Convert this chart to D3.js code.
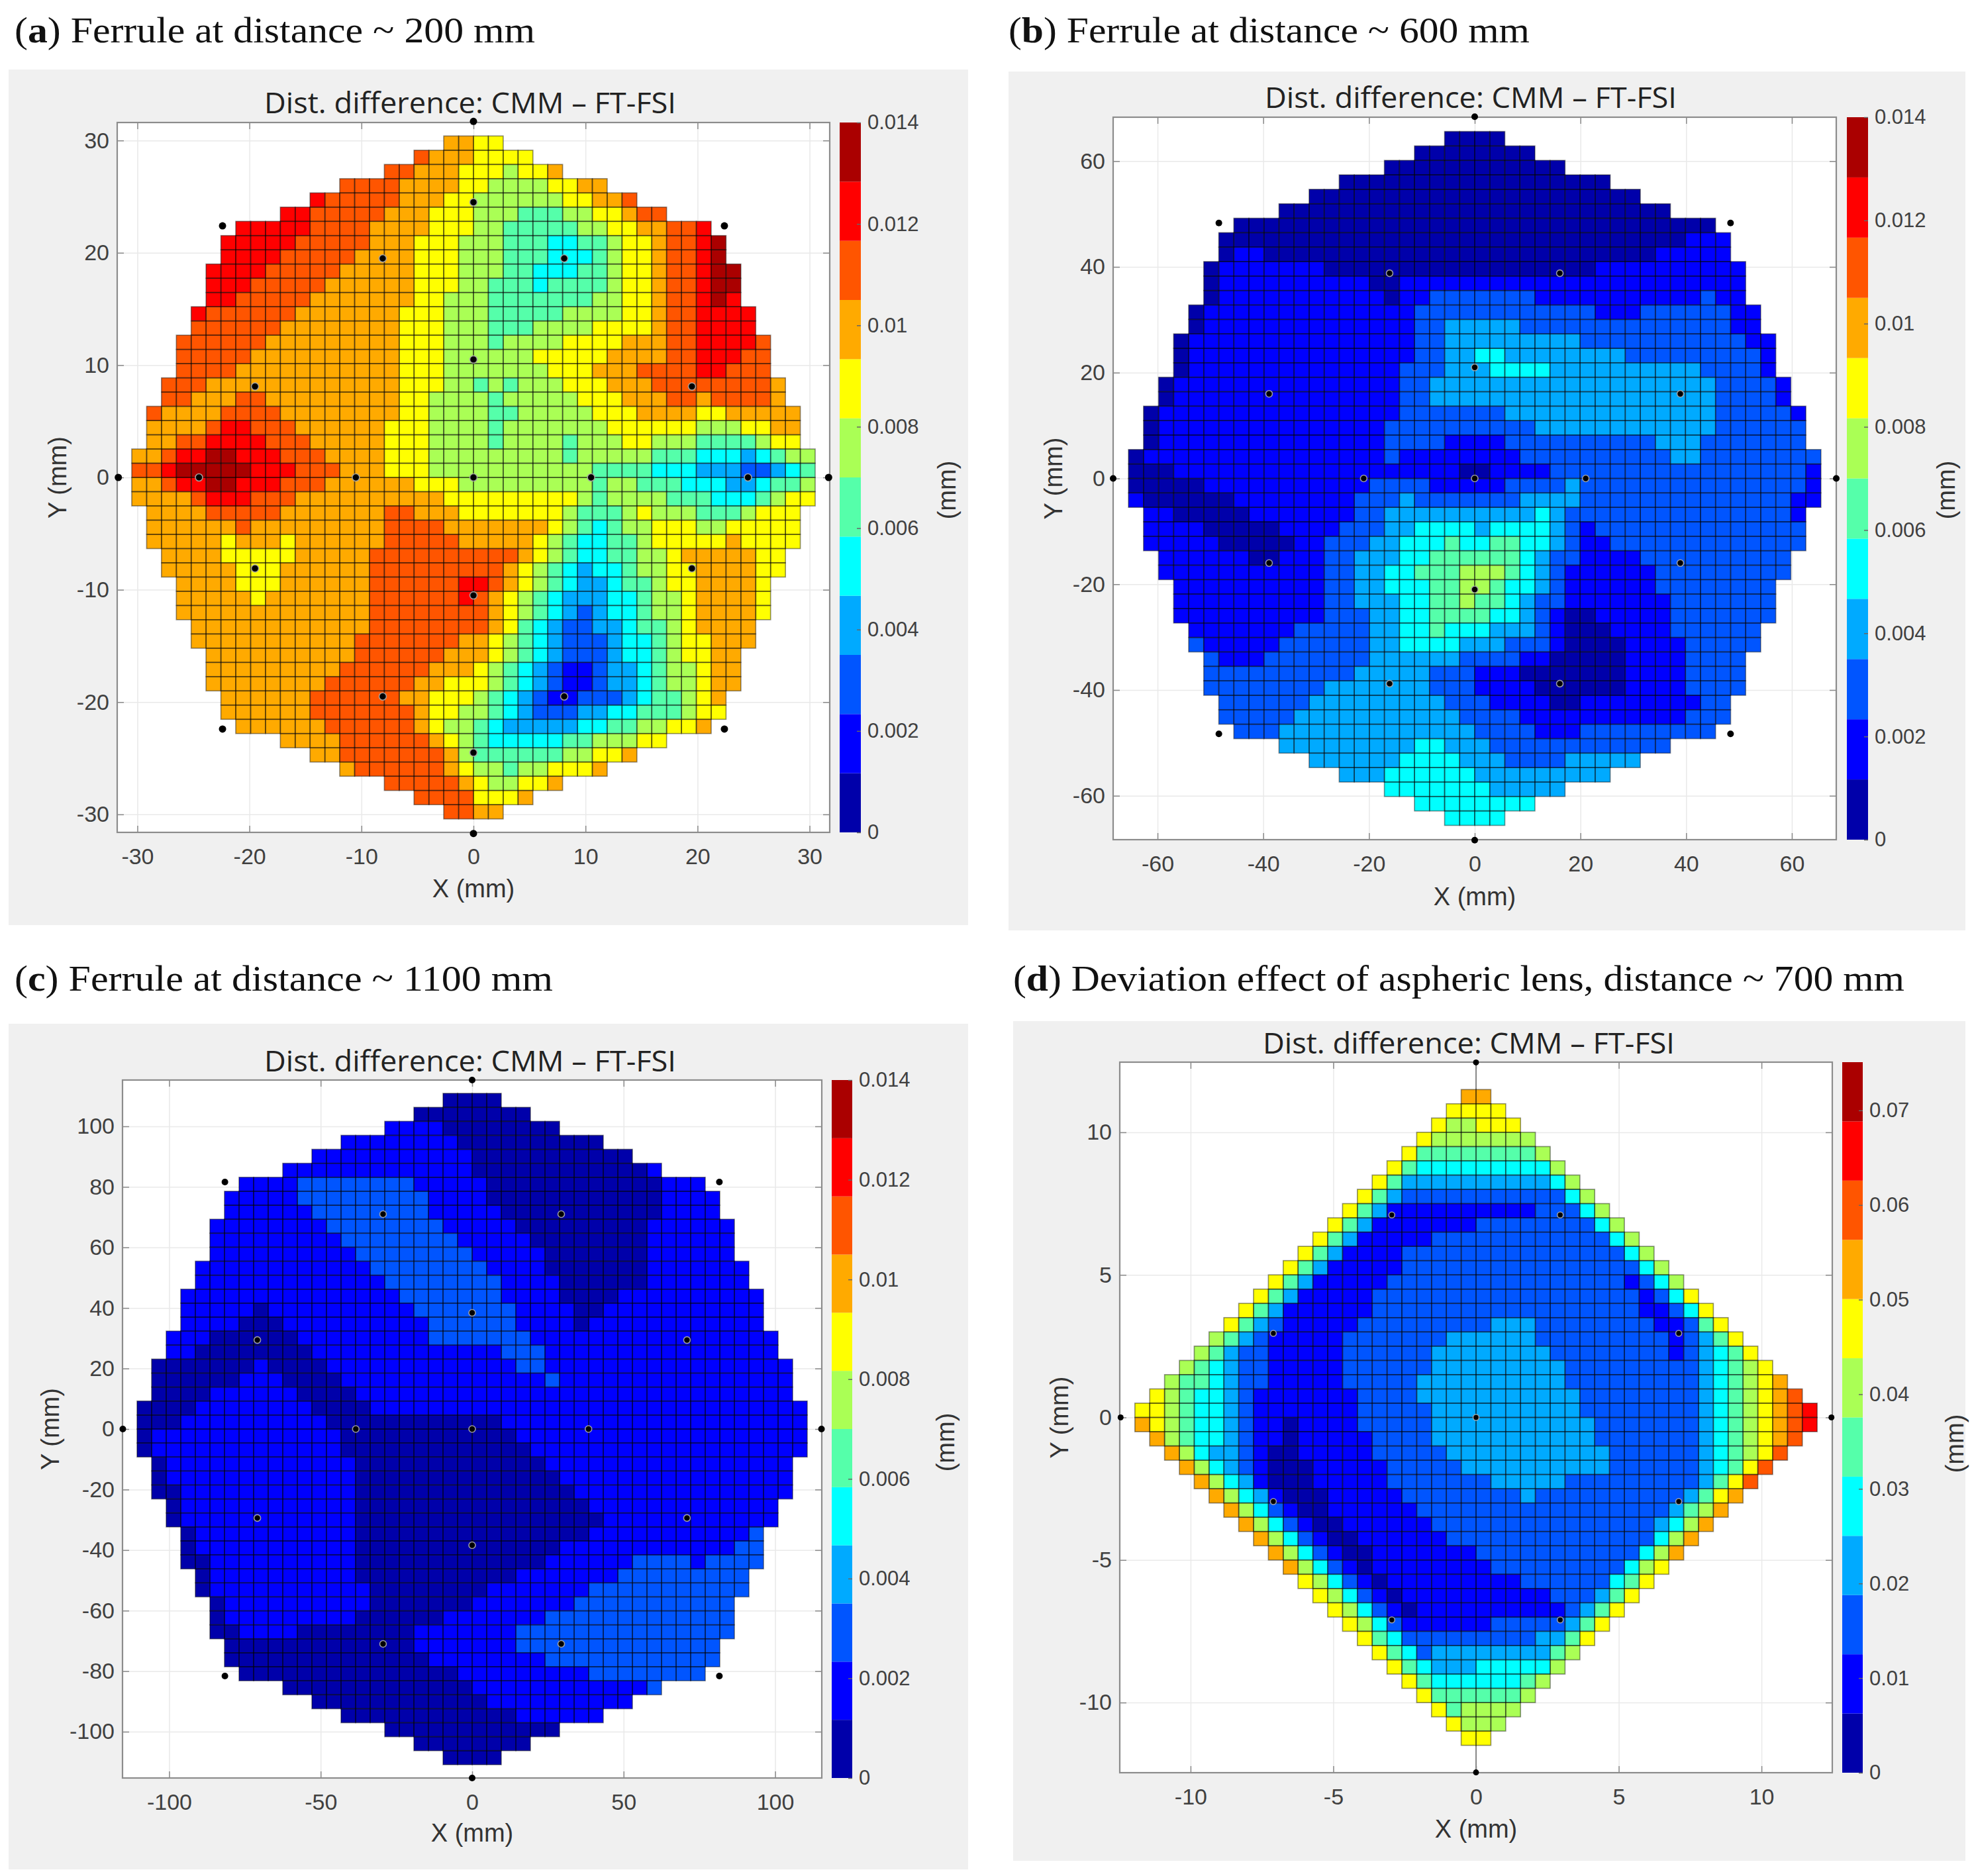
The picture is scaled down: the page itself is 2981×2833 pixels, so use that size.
<!DOCTYPE html>
<html><head><meta charset="utf-8">
<script src="https://d3js.org/d3.v7.min.js"></script>
<style>html,body{margin:0;padding:0;background:#fff}svg{display:block}</style>
</head><body><svg id="c" width="2981" height="2833"></svg>
<script>
// Colour classes of the colour bars, low to high
const classColors = ["#0000AA","#0000FF","#0055FF","#00AAFF","#00FFFF","#55FFAA","#AAFF55","#FFFF00","#FFAA00","#FF5500","#FF0000","#AA0000"];

// Cell classes, one line per grid row from top to bottom.
// Each token is <class in base 12><run length>; every row is centred on X = 0.
const rowsA = ["82 72","91 83 74","92 83 73 61 72 81","94 84 72 64 72 82","a1 95 83 72 66 72 82 91","a2 95 83 73 63 53 62 72 81 92","a5 94 84 73 62 55 62 72 82 92 a1","a5 95 83 73 63 53 42 52 61 72 81 92 a1 b1","a4 95 84 73 63 53 43 51 61 72 81 92 a1 b1","a4 95 85 73 63 52 43 52 61 72 81 92 a1 b2","a3 95 86 73 62 53 41 54 61 72 81 92 a1 b2","a2 95 87 72 63 57 62 72 81 92 a1 b1 a1","a1 96 87 73 63 55 64 72 81 92 a4","96 88 73 63 53 64 74 81 92 a4","96 89 73 63 51 64 74 83 92 a4 91","95 810 73 66 75 84 92 a3 92","94 811 73 67 73 83 94 a2 93","93 813 73 62 51 61 51 63 73 83 98 81","92 83 92 89 72 64 51 65 73 83 92 81 94 81","91 84 94 88 72 64 52 65 73 84 72 85","84 91 a2 93 86 73 64 51 67 76 63 72 82","82 92 a4 93 85 73 64 51 64 51 63 72 63 54 61 72","82 91 a2 b2 a3 93 84 73 69 51 65 53 43 31 41 51 62","92 a1 b5 a3 93 83 73 611 54 43 33 22 31 41 51",
"82 91 a2 b2 a3 93 86 73 69 51 62 53 43 32 41 52 61","84 91 a3 93 810 79 61 51 64 53 43 51 61 72","84 95 87 92 83 77 61 53 61 71 63 53 61 73","86 91 89 94 87 71 61 51 41 51 62 73 62 75","85 71 83 71 86 95 85 71 61 51 42 52 61 75 81 74","84 75 85 910 81 71 61 51 42 52 62 71 85 72","85 73 86 99 81 71 61 51 41 31 42 51 62 72 84 72","84 73 86 96 a2 91 81 71 61 51 41 32 41 52 61 72 84 71","85 71 87 96 a1 91 81 71 61 51 41 33 42 51 62 71 84 71","813 98 81 71 61 51 41 31 21 31 42 51 62 71 84 71","812 98 81 71 51 41 31 22 32 41 52 61 71 84","811 97 82 71 61 51 41 31 23 31 42 51 61 72 83","810 96 83 71 61 51 41 31 23 31 42 51 61 72 82","89 96 83 71 61 51 41 31 21 12 21 32 41 51 62 71 82","88 96 82 73 61 51 41 31 21 12 21 32 41 51 62 71 82","86 96 82 73 61 51 41 31 21 12 23 31 41 52 61 71 81","86 97 81 72 62 51 41 31 23 32 42 53 61 72","86 96 81 71 62 51 41 35 42 52 62 72 81","84 96 81 71 61 51 45 52 63 72","82 97 81 61 56 62 72 81","81 96 81 71 62 51 62 73 81","95 81 71 62 72 81","94 73 81","92 82"];

const rowsB = ["04","08","012","018","022","026","032","031 13","01 12 026 15","01 17 018 110","01 110 02 123","01 111 01 12 27 111 21 12","01 114 212 13 26 12","01 114 22 35 214 12","01 115 22 39 211 12","01 115 22 32 42 38 29 11","01 114 23 33 44 310 24 11","01 115 22 319 24 11","01 115 22 319 24 11","01 116 27 314 25 11","01 115 210 312 26","01 115 24 14 210 33 27","01 116 21 18 210 32 28","03 119 02 14 217 11",
"05 111 24 15 24 31 215 11","11 06 18 23 31 27 34 214 12","12 05 17 22 310 41 31 215 11","14 05 14 23 32 44 31 44 31 21 11 214","15 05 12 23 32 43 51 42 52 42 31 21 12 213","16 02 13 22 33 42 56 41 31 22 14 210","111 22 32 42 53 63 51 41 31 21 16 29","110 22 32 43 52 62 51 42 31 21 16 28","110 22 33 42 52 61 52 41 31 22 17 27","110 23 32 42 54 42 31 21 11 02 15 27","17 25 32 42 51 43 33 21 11 03 14 26","21 15 26 32 44 33 23 11 04 14 25","21 13 27 36 24 12 05 14 24","210 35 23 13 07 14 24","28 37 23 14 06 14 24","26 39 23 14 02 18 22","25 311 24 111 23","23 313 24 13 29","39 42 33 212","36 44 33 24 35","33 46 39","47 35","48","44"];

const rowsC = ["04","08","14 08","18 010","111 011","113 012 11","14 28 15 012 13","15 29 14 012 14","16 28 15 011 14","18 28 15 09 16","19 28 15 08 16","110 28 15 07 16","112 28 14 07 17","113 28 14 06 17","115 27 14 04 110","15 01 110 27 14 02 111","14 03 110 26 14 01 112","13 06 19 27 117","12 08 113 23 116","07 11 04 113 22 117","06 13 04 114 21 116","04 16 04 130","04 18 04 130","03 110 012 121",
"01 113 012 120","01 113 013 119","01 113 013 117","01 113 014 116","02 112 015 115","01 112 016 113","01 112 017 112","01 111 016 111 21","01 111 014 112 22","02 110 013 16 24 11 24","01 110 011 17 29","01 111 08 17 211","01 110 07 17 211","01 19 06 17 213","02 14 08 17 215","013 17 214","014 18 212","015 19 28","013 112 21","012 110","012 16","012","08","04"];

const rowsD = ["82","74","71 62 73","71 67","71 58 61","71 51 49 61","71 51 310 41 61","71 51 31 211 41 61","71 51 31 110 23 41 61","71 51 31 17 28 41 61","71 51 31 15 212 41 61","71 51 31 14 215 41 61","71 51 31 15 216 41 61","71 51 31 15 216 11 21 41 61","71 51 31 15 218 11 21 41 71","71 51 31 16 218 12 21 41 71","71 51 31 21 15 29 33 28 12 21 51 71","61 51 31 21 15 27 36 29 11 21 31 51 71","61 51 31 22 15 26 38 28 11 21 31 41 51 71","61 51 41 31 22 15 26 39 29 31 41 51 61 71","61 52 41 31 22 15 25 310 29 31 41 51 61 71 81","71 61 51 42 31 21 17 24 311 28 31 41 51 61 71 81 91","72 61 51 42 31 21 17 25 310 28 31 41 51 61 71 81 91 a1",
"81 71 61 51 42 31 21 12 01 14 25 311 27 31 41 51 61 71 81 91 a1","81 61 51 42 31 21 12 01 15 24 311 27 31 41 51 61 71 81 91","81 61 41 32 21 11 02 15 25 311 26 31 41 51 61 71 91","81 61 41 31 21 11 03 15 25 310 26 31 41 51 71 91","81 61 41 31 11 03 15 27 35 29 31 51 71 91","81 61 41 31 11 03 15 28 31 210 31 51 71 81","81 61 41 21 11 02 16 217 31 51 61 81","81 61 41 21 11 02 16 215 31 41 61 81","81 61 41 21 11 02 16 214 41 61 81","81 61 41 21 11 02 17 211 41 61 81","81 61 41 21 11 01 18 29 41 61 71","71 61 41 21 11 01 19 26 41 51 71","71 61 41 21 11 01 110 23 31 51 71","71 61 41 21 11 01 110 21 31 51 71","71 61 41 21 16 25 31 51 71","71 51 41 29 32 51 71","71 51 41 21 38 51 61","71 51 41 33 45 61","71 51 46 51 61","71 56 61","71 51 64","71 63","72"];

// Measurement targets in mm: outer ones plain, inner ones ringed
const outerA = [[0,31.7],[0,-31.7],[-31.7,0],[31.7,0],[-22.4,22.4],[22.4,22.4],[-22.4,-22.4],[22.4,-22.4]];
const innerA = [[0,0],[-10.5,0],[10.5,0],[0,10.5],[0,-10.5],[-24.5,0],[24.5,0],[0,24.5],[0,-24.5],[-8.1,19.5],[8.1,19.5],[-8.1,-19.5],[8.1,-19.5],[-19.5,8.1],[19.5,8.1],[-19.5,-8.1],[19.5,-8.1]];
const outerB = [[0,68.4],[0,-68.4],[-68.4,0],[68.4,0],[-48.4,48.3],[48.4,48.3],[-48.4,-48.3],[48.4,-48.3]];
const innerB = [[0,0],[-21,0],[21,0],[0,21],[0,-21],[-16.1,38.8],[16.1,38.8],[-16.1,-38.8],[16.1,-38.8],[-38.9,16],[38.9,16],[-38.9,-16],[38.9,-16]];
const outerC = [[0,115.3],[0,-115.3],[-115.3,0],[115.3,0],[-81.6,81.6],[81.6,81.6],[-81.6,-81.6],[81.6,-81.6]];
const innerC = [[0,0],[-38.4,0],[38.4,0],[0,38.4],[0,-38.4],[-70.9,29.4],[70.9,29.4],[-70.9,-29.4],[70.9,-29.4],[-29.4,71],[29.4,71],[-29.4,-71],[29.4,-71]];
const outerD = [[0,12.45],[0,-12.45],[-12.45,0],[12.45,0]];
const innerD = [[0,0],[-2.95,7.1],[2.95,7.1],[-2.95,-7.1],[2.95,-7.1],[-7.1,2.95],[7.1,2.95],[-7.1,-2.95],[7.1,-2.95]];

const ticksA = [-30,-20,-10,0,10,20,30];
const ticksB = [-60,-40,-20,0,20,40,60];
const ticksCx = [-100,-50,0,50,100];
const ticksCy = [-100,-80,-60,-40,-20,0,20,40,60,80,100];
const ticksD = [-10,-5,0,5,10];
const barTicks = [0,0.002,0.004,0.006,0.008,0.01,0.012,0.014];
const barTicksD = [0,0.01,0.02,0.03,0.04,0.05,0.06,0.07];

const titleText = "Dist. difference: CMM \u2013 FT-FSI";
const capA = ["a",") Ferrule at distance ~ 200 mm"];
const capB = ["b",") Ferrule at distance ~ 600 mm"];
const capC = ["c",") Ferrule at distance ~ 1100 mm"];
const capD = ["d",") Deviation effect of aspheric lens, distance ~ 700 mm"];

const panels = [
 {rows:rowsA,cap:capA,capX:22,capY:64,capW:786,bg:[13,105,1462,1397],box:[177,185,1253,1257],xd:31.8,yd:31.6,ex:30.5,ey:30.4,xt:ticksA,yt:ticksA,vmax:0.014,bt:barTicks,outer:outerA,inner:innerA,r:5.5,bar:[1268,1300],titleX:710,titleY:154,xlY:1342,ylX:87,mmX:1430,mmY:740},
 {rows:rowsB,cap:capB,capX:1523,capY:64,capW:787,bg:[1523,108,2968,1405],box:[1681,177,2773,1268],xd:68.4,yd:68.3,ex:65.5,ey:65.6,xt:ticksB,yt:ticksB,vmax:0.014,bt:barTicks,outer:outerB,inner:innerB,r:5,bar:[2789,2821],titleX:2221,titleY:146,xlY:1354,ylX:1591,mmX:2939,mmY:740},
 {rows:rowsC,cap:capC,capX:22,capY:1496,capW:813,bg:[13,1546,1462,2823],box:[185,1631,1241,2685],xd:115.4,yd:115.3,ex:110.6,ey:110.9,xt:ticksCx,yt:ticksCy,vmax:0.014,bt:barTicks,outer:outerC,inner:innerC,r:5,bar:[1256,1287],titleX:710,titleY:1601,xlY:2768,ylX:76,mmX:1428,mmY:2178},
 {rows:rowsD,cap:capD,capX:1530,capY:1496,capW:1346,bg:[1530,1542,2968,2810],box:[1691,1604,2767,2677],xd:12.48,yd:12.46,ex:11.95,ey:11.5,xt:ticksD,yt:ticksD,vmax:0.0751,bt:barTicksD,outer:outerD,inner:innerD,r:4.5,bar:[2782,2813],titleX:2218,titleY:1574,xlY:2762,ylX:1600,mmX:2952,mmY:2180,cross:true}
];

const svg = d3.select("#c");
const defs = svg.append("defs");
defs.append("filter").attr("id","soft").append("feGaussianBlur").attr("stdDeviation",0.6);
const sans = "'Liberation Sans',Arial,sans-serif";

function decode(rows, vmax){
  const n = d3.max(rows, r => d3.sum(r.split(" "), t => +t.slice(1)));
  const cells = [];
  rows.forEach((r,ri) => {
    const toks = r.split(" ");
    const len = d3.sum(toks, t => +t.slice(1));
    let c = (n-len)/2;
    toks.forEach(t => {
      const lvl = parseInt(t[0],12), cnt = +t.slice(1);
      for(let i=0;i<cnt;i++) cells.push({row:ri,col:c++,value:(lvl+0.5)/12*vmax});
    });
  });
  return {n,cells};
}

function styleAxis(g,color){
  g.select(".domain").remove();
  g.selectAll("line").attr("stroke",color).attr("stroke-width",1.5);
  g.selectAll("text").attr("font-family",sans).attr("font-size",34).attr("fill","#404040");
}

panels.forEach(p => {
  const [L,T,R,B] = p.box;
  const W = R-L, H = B-T;
  const G = svg.append("g");
  G.append("rect").attr("x",p.bg[0]).attr("y",p.bg[1]).attr("width",p.bg[2]-p.bg[0]).attr("height",p.bg[3]-p.bg[1]).attr("fill","#f0f0f0");

  const cap = svg.append("text").attr("x",p.capX).attr("y",p.capY).attr("font-family","'Liberation Serif','Times New Roman',serif").attr("font-size",54).attr("fill","#111").attr("textLength",p.capW).attr("lengthAdjust","spacingAndGlyphs");
  cap.append("tspan").text("(");
  cap.append("tspan").attr("font-weight","bold").text(p.cap[0]);
  cap.append("tspan").text(p.cap[1]);

  const x = d3.scaleLinear().domain([-p.xd,p.xd]).range([L,R]);
  const y = d3.scaleLinear().domain([-p.yd,p.yd]).range([B,T]);
  G.append("rect").attr("x",L).attr("y",T).attr("width",W).attr("height",H).attr("fill","#fff");

  // grid
  G.append("g").attr("transform",`translate(0,${B})`).call(d3.axisBottom(x).tickValues(p.xt).tickSize(-H).tickFormat("")).call(g=>{g.select(".domain").remove();g.selectAll("line").attr("stroke","#e9e9e9").attr("stroke-width",1.5);});
  G.append("g").attr("transform",`translate(${L},0)`).call(d3.axisLeft(y).tickValues(p.yt).tickSize(-W).tickFormat("")).call(g=>{g.select(".domain").remove();g.selectAll("line").attr("stroke","#e9e9e9").attr("stroke-width",1.5);});
  if(p.cross){
    G.append("line").attr("x1",x(0)).attr("x2",x(0)).attr("y1",T).attr("y2",B).attr("stroke","#666").attr("stroke-width",1.5);
  }

  // cells
  const {n,cells} = decode(p.rows,p.vmax);
  const nr = p.rows.length;
  const color = d3.scaleQuantize().domain([0,p.vmax]).range(classColors);
  const cx = d3.scaleLinear().domain([0,n]).range([x(-p.ex),x(p.ex)]);
  const cy = d3.scaleLinear().domain([0,nr]).range([y(p.ey),y(-p.ey)]);
  const marks = G.append("g").attr("filter","url(#soft)");
  marks.selectAll("rect").data(cells).join("rect")
    .attr("x",d=>cx(d.col)).attr("y",d=>cy(d.row))
    .attr("width",cx(1)-cx(0)).attr("height",cy(1)-cy(0))
    .attr("fill",d=>color(d.value));
  // cell edges drawn over all fills so neighbours cannot cover them
  marks.append("g").selectAll("rect").data(cells).join("rect")
    .attr("x",d=>cx(d.col)).attr("y",d=>cy(d.row))
    .attr("width",cx(1)-cx(0)).attr("height",cy(1)-cy(0))
    .attr("fill","none").attr("stroke","#000").attr("stroke-opacity",0.42).attr("stroke-width",1.7);

  // axes: labels and inward ticks on all four sides
  const tickCol = "#8a8a8a", fmt = d => String(d);
  G.append("g").attr("transform",`translate(0,${B})`).call(d3.axisBottom(x).tickValues(p.xt).tickSizeInner(-10).tickSizeOuter(0).tickPadding(24).tickFormat(fmt)).call(g=>styleAxis(g,tickCol));
  G.append("g").attr("transform",`translate(0,${T})`).call(d3.axisTop(x).tickValues(p.xt).tickSizeInner(-10).tickSizeOuter(0).tickFormat("")).call(g=>styleAxis(g,tickCol));
  G.append("g").attr("transform",`translate(${L},0)`).call(d3.axisLeft(y).tickValues(p.yt).tickSizeInner(-10).tickSizeOuter(0).tickPadding(12).tickFormat(fmt)).call(g=>styleAxis(g,tickCol));
  G.append("g").attr("transform",`translate(${R},0)`).call(d3.axisRight(y).tickValues(p.yt).tickSizeInner(-10).tickSizeOuter(0).tickFormat("")).call(g=>styleAxis(g,tickCol));
  G.append("rect").attr("x",L).attr("y",T).attr("width",W).attr("height",H).attr("fill","none").attr("stroke","#8c8c8c").attr("stroke-width",2.2);

  // markers
  const dots = G.append("g");
  dots.selectAll("circle.o").data(p.outer).join("circle").attr("class","o").attr("cx",d=>x(d[0])).attr("cy",d=>y(d[1])).attr("r",p.r).attr("fill","#000");
  dots.selectAll("circle.i").data(p.inner).join("circle").attr("class","i").attr("cx",d=>x(d[0])).attr("cy",d=>y(d[1])).attr("r",p.r).attr("fill","#000").attr("stroke","#a8a8a8").attr("stroke-opacity",0.9).attr("stroke-width",1.6);

  // colour bar
  const yb = d3.scaleLinear().domain([0,p.vmax]).range([B,T]);
  const [bl,br] = p.bar;
  const bandW = p.vmax/classColors.length;
  G.append("g").selectAll("rect").data(classColors).join("rect")
    .attr("x",bl).attr("width",br-bl)
    .attr("y",(d,i)=>yb((i+1)*bandW)).attr("height",(d,i)=>yb(i*bandW)-yb((i+1)*bandW))
    .attr("fill",d=>d);
  G.append("g").attr("transform",`translate(${br},0)`)
    .call(d3.axisRight(yb).tickValues(p.bt).tickSizeInner(-6).tickSizeOuter(0).tickPadding(10).tickFormat(fmt))
    .call(g=>{styleAxis(g,"#666");g.selectAll("text").attr("font-size",31);});

  // text
  const label = (s,px,py,size,rot,fam) => {
    const t = G.append("text").attr("text-anchor","middle").attr("dominant-baseline","central").attr("font-family",fam||sans).attr("font-size",size).attr("fill","#333").text(s);
    t.attr("transform",`translate(${px},${py})`+(rot?` rotate(${rot})`:""));
    return t;
  };
  label(titleText,p.titleX,p.titleY,43,0,"'Open Sans',sans-serif").attr("textLength",622).attr("lengthAdjust","spacingAndGlyphs").attr("fill","#222");
  label("X (mm)",x(0),p.xlY,38);
  label("Y (mm)",p.ylX,y(0),38,-90);
  label("(mm)",p.mmX,p.mmY,38,-90);
});
</script></body></html>
